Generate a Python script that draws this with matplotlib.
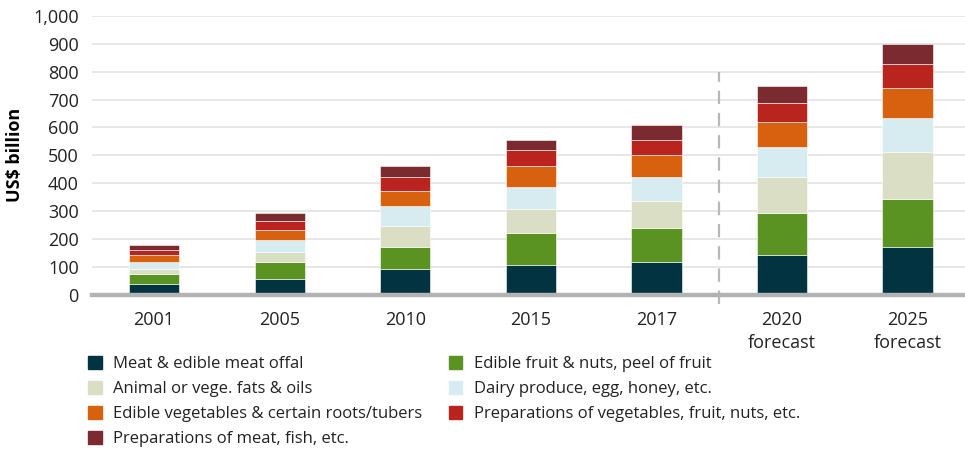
import matplotlib
matplotlib.use("Agg")
import matplotlib.pyplot as plt
from matplotlib.patches import Patch
import numpy as np

plt.rcParams["font.family"] = ["Open Sans", "DejaVu Sans"]

years = ["2001", "2005", "2010", "2015", "2017", "2020\nforecast", "2025\nforecast"]
categories = [
    "Meat & edible meat offal",
    "Edible fruit & nuts, peel of fruit",
    "Animal or vege. fats & oils",
    "Dairy produce, egg, honey, etc.",
    "Edible vegetables & certain roots/tubers",
    "Preparations of vegetables, fruit, nuts, etc.",
    "Preparations of meat, fish, etc.",
]
meat = [37, 55, 91, 108, 116, 143, 170]
fruit = [36, 61, 79, 114, 123, 150, 175]
fats = [18, 36, 78, 87, 97, 130, 167]
dairy = [25, 43, 71, 79, 88, 107, 123]
veg = [28, 36, 53, 72, 78, 88, 106]
prep_veg = [18, 35, 52, 60, 54, 69, 86]
prep_meat = [17, 27, 36, 36, 52, 62, 72]
series = [meat, fruit, fats, dairy, veg, prep_veg, prep_meat]
colors = ["#023341", "#5b9323", "#dadec5", "#d6ecf0", "#d8610f", "#b9241f", "#7b2a2f"]

fig = plt.figure(figsize=(9.65, 4.51), dpi=100)
ax = fig.add_axes([92 / 965, 1 - 294.7 / 451, 1 - 92 / 965, (294.7 - 16) / 451])

x = np.arange(len(years))
bottom = np.zeros(len(years))
for vals, col in zip(series, colors):
    ax.bar(x, vals, width=0.4, bottom=bottom, color=col, edgecolor="white",
           linewidth=0.4, zorder=2)
    bottom += np.array(vals)

ax.set_xlim(-0.494, 6.457)
ax.set_ylim(0, 1000)
ax.set_yticks(range(0, 1001, 100))
ax.set_yticklabels([f"{v:,}" for v in range(0, 1001, 100)])
ax.set_xticks(x)
ax.set_xticklabels(years, linespacing=1.3)
ax.yaxis.grid(True, color="#e0e0e0", lw=1.1, zorder=0)
ax.set_axisbelow(True)
for s in ax.spines.values():
    s.set_visible(False)
ax.tick_params(axis="both", length=0, labelsize=13, colors="#222222")
ax.tick_params(axis="x", pad=12)
ax.tick_params(axis="y", pad=9.5)
ax.axhline(0, color="#b3b3b3", lw=3.2, zorder=3, clip_on=False)

# divider between actuals and forecasts
ax.plot([4.5, 4.5], [-35, 800], color="#b8b8b8", lw=1.6, ls=(0, (6, 4)),
        clip_on=False, zorder=1)

ax.set_ylabel("US$ billion", fontsize=13, fontweight="bold")
ax.yaxis.set_label_coords(-(92 - 24) / 873, 0.5)

order = [0, 2, 4, 6, 1, 3, 5]
handles = [Patch(color=colors[i]) for i in order]
labels = [categories[i] for i in order]
fig.legend(handles, labels, ncol=2, loc="upper left", bbox_to_anchor=(80 / 965, 1 - 348 / 451),
           frameon=False, fontsize=12, handlelength=0.8, handleheight=0.8,
           handletextpad=0.7, labelspacing=0.52, columnspacing=1.6, borderpad=0,
           labelcolor="#222222")

fig.savefig("out.png", dpi=100)
